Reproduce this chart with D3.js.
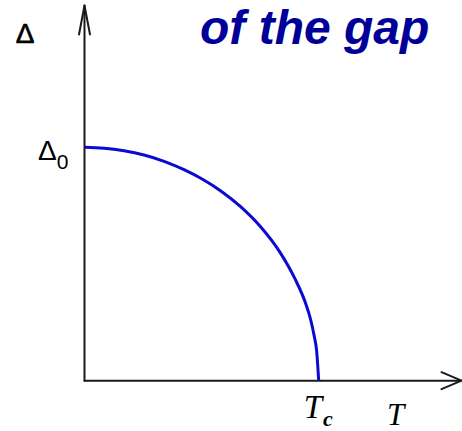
<!DOCTYPE html>
<html>
<head>
<meta charset="utf-8">
<script src="https://cdn.jsdelivr.net/npm/d3@7/dist/d3.min.js"></script>
<style>
  html, body { margin: 0; padding: 0; background: #fff; }
  svg { display: block; }
</style>
</head>
<body>
<svg id="chart" width="462" height="431"></svg>
<script>
// Reduced temperature T/Tc
const tReduced = [0, 0.083, 0.169, 0.254, 0.340, 0.425, 0.502, 0.585, 0.664, 0.749, 0.835, 0.900, 0.941, 0.966, 0.981, 0.991, 1.0];
// Reduced gap Δ/Δ0
const gapReduced = [1.0, 0.996, 0.985, 0.967, 0.940, 0.904, 0.864, 0.811, 0.748, 0.663, 0.550, 0.434, 0.340, 0.260, 0.190, 0.130, 0.0];
// Axis labels
const xTickLabel = { value: 1, main: "T", sub: "c" };
const yTickLabel = { value: 1, main: "Δ", sub: "0" };
const xAxisTitle = "T";
const yAxisTitle = "Δ";
const titleText = "of the gap";

const svg = d3.select("#chart");

const x = d3.scaleLinear().domain([0, 1]).range([84.5, 318.7]);
const y = d3.scaleLinear().domain([0, 1]).range([380.7, 147.3]);

const x0 = x(0), y0 = y(0);
const xEnd = 461.5, yEnd = 5.5;
const axisColor = "#1a1a1a";

// Axes with open arrowheads
const axes = svg.append("g")
  .attr("fill", "none")
  .attr("stroke", axisColor)
  .attr("stroke-width", 2)
  .attr("stroke-linecap", "round")
  .attr("stroke-linejoin", "round");

axes.append("path").attr("d", `M${x0},${y0}V${yEnd}`);
axes.append("path").attr("d", `M${x0 - 5.5},${yEnd + 29}L${x0},${yEnd}L${x0 + 5.5},${yEnd + 29}`);
axes.append("path").attr("d", `M${x0},${y0}H${xEnd}`);
axes.append("path").attr("d", `M${xEnd - 20},${y0 - 8.5}L${xEnd},${y0}L${xEnd - 20},${y0 + 8.5}`);

// Gap curve
const pts = tReduced.map((t, i) => [t, gapReduced[i]]);
const line = d3.line()
  .x(d => x(d[0]))
  .y(d => y(d[1]))
  .curve(d3.curveMonotoneX);

svg.append("path")
  .datum(pts)
  .attr("d", line)
  .attr("fill", "none")
  .attr("stroke", "#0a0ad0")
  .attr("stroke-width", 3);

// Title fragment
svg.append("text")
  .attr("x", 200)
  .attr("y", 44)
  .attr("font-family", "'Liberation Sans', Arial, sans-serif")
  .attr("font-weight", "bold")
  .attr("font-style", "italic")
  .attr("font-size", 48)
  .attr("fill", "#000099")
  .text(titleText);

// Y axis title
svg.append("text")
  .attr("x", 25)
  .attr("y", 43)
  .attr("text-anchor", "middle")
  .attr("font-family", "'Liberation Sans', Arial, sans-serif")
  .attr("font-size", 28)
  .attr("fill", "#000")
  .attr("stroke", "#000")
  .attr("stroke-width", 0.6)
  .text(yAxisTitle);

// Δ0 tick label
const yt = svg.append("text")
  .attr("x", 38)
  .attr("y", y(yTickLabel.value) + 13)
  .attr("font-family", "'Liberation Sans', Arial, sans-serif")
  .attr("fill", "#000");
yt.append("tspan").attr("font-size", 28).text(yTickLabel.main);
yt.append("tspan").attr("font-size", 21).attr("dy", 9).text(yTickLabel.sub);

// Tc tick label
const xt = svg.append("text")
  .attr("x", x(xTickLabel.value) - 15)
  .attr("y", 418)
  .attr("font-family", "'Liberation Serif', 'DejaVu Serif', serif")
  .attr("font-style", "italic")
  .attr("fill", "#000");
xt.append("tspan").attr("font-size", 33).text(xTickLabel.main);
xt.append("tspan").attr("font-size", 22).attr("font-weight", "bold").attr("dy", 8).attr("dx", 1).text(xTickLabel.sub);

// X axis title
svg.append("text")
  .attr("x", 387)
  .attr("y", 425)
  .attr("font-family", "'Liberation Serif', 'DejaVu Serif', serif")
  .attr("font-style", "italic")
  .attr("font-size", 31)
  .attr("fill", "#000")
  .text(xAxisTitle);
</script>
</body>
</html>
